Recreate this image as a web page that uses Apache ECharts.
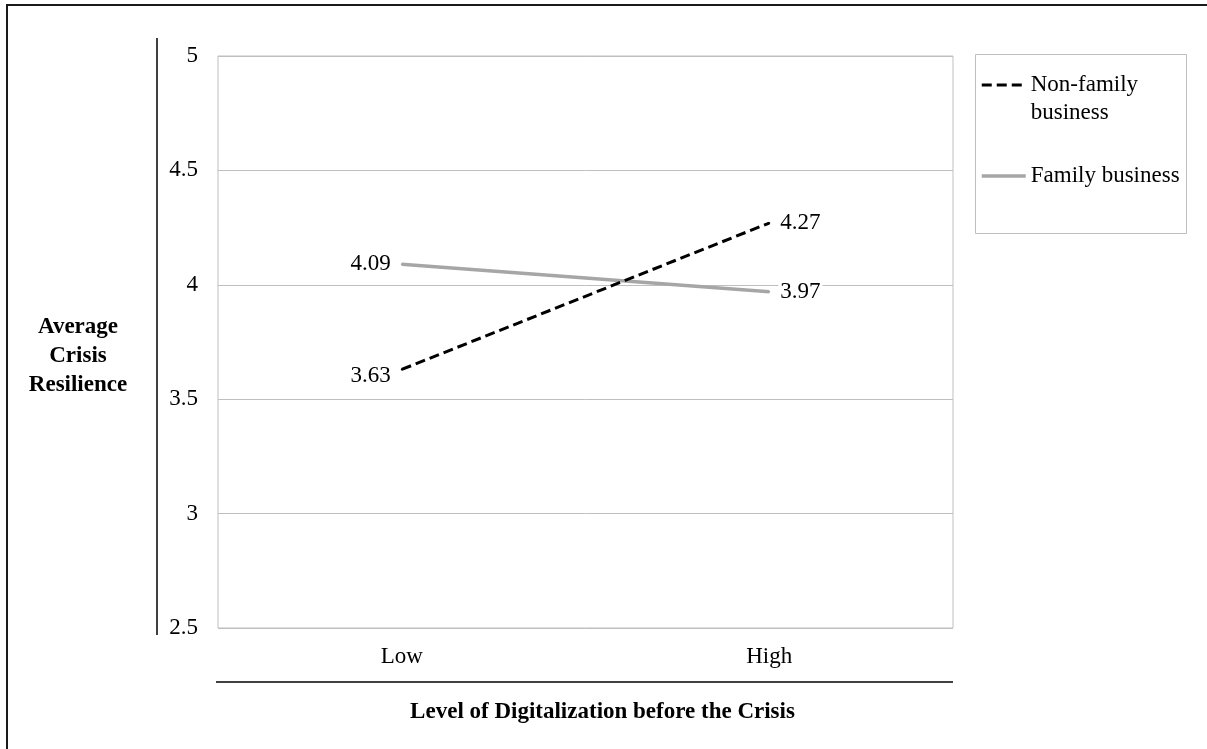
<!DOCTYPE html>
<html>
<head>
<meta charset="utf-8">
<style>
  html, body { margin: 0; padding: 0; background: #ffffff; }
  #chart { width: 1207px; height: 749px; }
</style>
<script src="https://cdn.jsdelivr.net/npm/echarts@6/dist/echarts.min.js"></script>
</head>
<body>
<div id="chart"></div>
<script>
// Digitalization level before the crisis (x categories)
const categories = ['Low', 'High'];
// Average crisis resilience by ownership type
const nonFamilyValues = [3.63, 4.27];
const familyValues = [4.09, 3.97];
// Series names shown in the legend
const seriesNames = ['Non-family business', 'Family business'];
// Value axis range
const yMin = 2.5, yMax = 5, yStep = 0.5;

const FONT = '"Liberation Serif", "Times New Roman", serif';
const FS = 23;

// First point labelled on the left, second on the right;
// firstOffset nudges the left-hand label vertically.
function withLabels(values, firstOffset) {
  return values.map((v, i) => ({
    value: v,
    label: i === 0
      ? { position: 'left', offset: [0, firstOffset] }
      : { position: 'right' }
  }));
}

const labelStyle = {
  show: true,
  fontFamily: FONT,
  fontSize: FS,
  color: '#000',
  distance: 8,
  backgroundColor: '#fff',
  padding: [0, 2],
  formatter: p => p.value.toFixed(2)
};

// Legend text: the first entry wraps; a leading blank line keeps the
// swatch level with the first line of text.
function legendText(name) {
  return name === seriesNames[0] ? '\nNon-family\nbusiness' : name;
}

const chart = echarts.init(document.getElementById('chart'), null, { renderer: 'canvas' });

chart.setOption({
  animation: false,
  backgroundColor: '#ffffff',
  title: {
    text: 'Average\nCrisis\nResilience',
    left: 78,
    top: 313,
    padding: 0,
    textAlign: 'center',
    textStyle: { fontFamily: FONT, fontSize: FS, fontWeight: 'bold', color: '#000', lineHeight: 29 }
  },
  grid: {
    left: 218, top: 56, right: 254, bottom: 121,
    show: true, borderColor: '#bfbfbf', borderWidth: 1
  },
  legend: {
    orient: 'vertical',
    left: 980,
    top: 43,
    padding: 0,
    itemWidth: 44,
    itemHeight: 14,
    itemGap: 35,
    itemTextGap: 0,
    formatter: legendText,
    itemStyle: { opacity: 0 },
    textStyle: { fontFamily: FONT, fontSize: FS, color: '#000', lineHeight: 28 },
    data: [
      { name: seriesNames[0], lineStyle: { width: 3 } },
      { name: seriesNames[1], lineStyle: { width: 3.5 } }
    ]
  },
  xAxis: {
    type: 'category',
    data: categories,
    boundaryGap: true,
    axisLine: { show: false },
    axisTick: { show: false },
    axisLabel: { fontFamily: FONT, fontSize: FS, color: '#000', margin: 15, lineHeight: 28 },
    name: 'Level of Digitalization before the Crisis',
    nameLocation: 'middle',
    nameGap: 70,
    nameTextStyle: {
      fontFamily: FONT, fontSize: FS, fontWeight: 'bold', color: '#000', lineHeight: 28,
      padding: [0, 0, 0, 34]
    }
  },
  yAxis: {
    type: 'value',
    min: yMin, max: yMax, interval: yStep,
    axisLine: { show: false },
    axisTick: { show: false },
    axisLabel: { fontFamily: FONT, fontSize: FS, color: '#000', margin: 20 },
    splitLine: { show: true, lineStyle: { color: '#bfbfbf', width: 1 } }
  },
  series: [
    {
      name: seriesNames[0],
      type: 'line',
      data: withLabels(nonFamilyValues, 6),
      symbol: 'circle',
      symbolSize: 2,
      showSymbol: true,
      lineStyle: { color: '#000', width: 3, type: [10, 5] },
      itemStyle: { color: '#000' },
      label: labelStyle,
      z: 3
    },
    {
      name: seriesNames[1],
      type: 'line',
      data: withLabels(familyValues, 0),
      symbol: 'circle',
      symbolSize: 2,
      showSymbol: true,
      lineStyle: { color: '#a6a6a6', width: 3.5, type: 'solid' },
      itemStyle: { color: '#a6a6a6' },
      label: labelStyle,
      z: 2
    }
  ],
  graphic: [
    // outer frame (top and left edges)
    { type: 'line', shape: { x1: 6, y1: 5, x2: 1207, y2: 5 }, style: { stroke: '#1a1a1a', lineWidth: 2 }, silent: true },
    { type: 'line', shape: { x1: 7, y1: 5, x2: 7, y2: 749 }, style: { stroke: '#1a1a1a', lineWidth: 2 }, silent: true },
    // vertical rule beside the value axis
    { type: 'line', shape: { x1: 157, y1: 38, x2: 157, y2: 635 }, style: { stroke: '#000', lineWidth: 1.5 }, silent: true },
    // horizontal rule above the category axis title
    { type: 'line', shape: { x1: 216, y1: 682, x2: 953, y2: 682 }, style: { stroke: '#000', lineWidth: 1.5 }, silent: true },
    // legend frame
    { type: 'rect', shape: { x: 975.5, y: 54.5, width: 211, height: 179 }, style: { fill: 'none', stroke: '#bfbfbf', lineWidth: 1 }, silent: true }
  ]
});
</script>
</body>
</html>
